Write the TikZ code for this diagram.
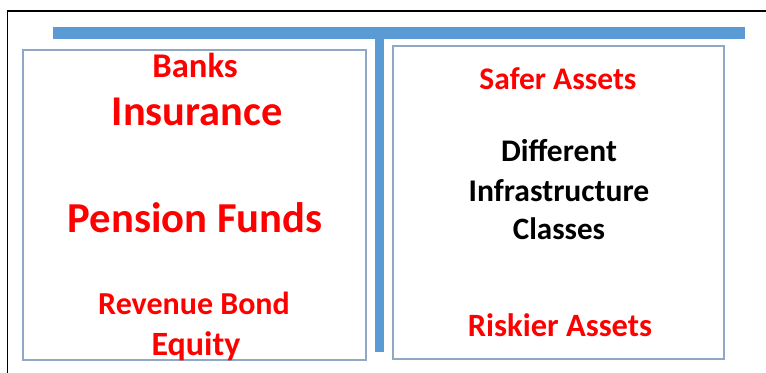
\documentclass[tikz,border=0pt]{standalone}
\usepackage{fontspec}
\setmainfont{Carlito}
\definecolor{barblue}{HTML}{5B9BD5}
\definecolor{boxline}{HTML}{8FA8C6}
\definecolor{txtred}{HTML}{FF0000}
\begin{document}
\begin{tikzpicture}[x=0.75pt,y=-0.75pt,
  lbl/.style={anchor=base,inner sep=0pt,font=\bfseries},
  redlbl/.style={lbl,text=txtred},
  panel/.style={draw=boxline,line width=1.3pt},
  bar/.style={fill=barblue,draw=none}]
\useasboundingbox (0,0) rectangle (766,373);
% outer frame
\draw[line width=0.9pt] (7.5,373) -- (7.5,11) -- (766,11);
% T bar
\fill[bar] (53,27) rectangle (745,39);
\fill[bar] (375,38) rectangle (384,352);
% panels
\draw[panel] (23,50) rectangle (366,360);
\draw[panel] (393,46) rectangle (724,359);
% left texts
\node[redlbl,font=\bfseries\fontsize{26}{29}\selectfont] (banks) at (195,78) {Banks};
\node[redlbl,font=\bfseries\fontsize{31.8}{35}\selectfont] (ins) at (197,126) {Insurance};
\node[redlbl,font=\bfseries\fontsize{32}{36}\selectfont] (pen) at (195,233) {Pension Funds};
\node[redlbl,font=\bfseries\fontsize{24}{28}\selectfont] (rev) at (194,315) {Revenue Bond};
\node[redlbl,font=\bfseries\fontsize{25.5}{29}\selectfont] (eq) at (196,355) {Equity};
% right texts
\node[redlbl,font=\bfseries\fontsize{23.6}{27}\selectfont] (safe) at (558,90) {Safer Assets};
\node[lbl,font=\bfseries\fontsize{23.6}{27}\selectfont] (diff) at (559,162) {Different};
\node[lbl,font=\bfseries\fontsize{23.7}{27}\selectfont] (infra) at (559,202) {Infrastructure};
\node[lbl,font=\bfseries\fontsize{23.3}{27}\selectfont] (cls) at (559,240) {Classes};
\node[redlbl,font=\bfseries\fontsize{24.4}{28}\selectfont] (risk) at (560,337) {Riskier Assets};
\end{tikzpicture}
\end{document}
